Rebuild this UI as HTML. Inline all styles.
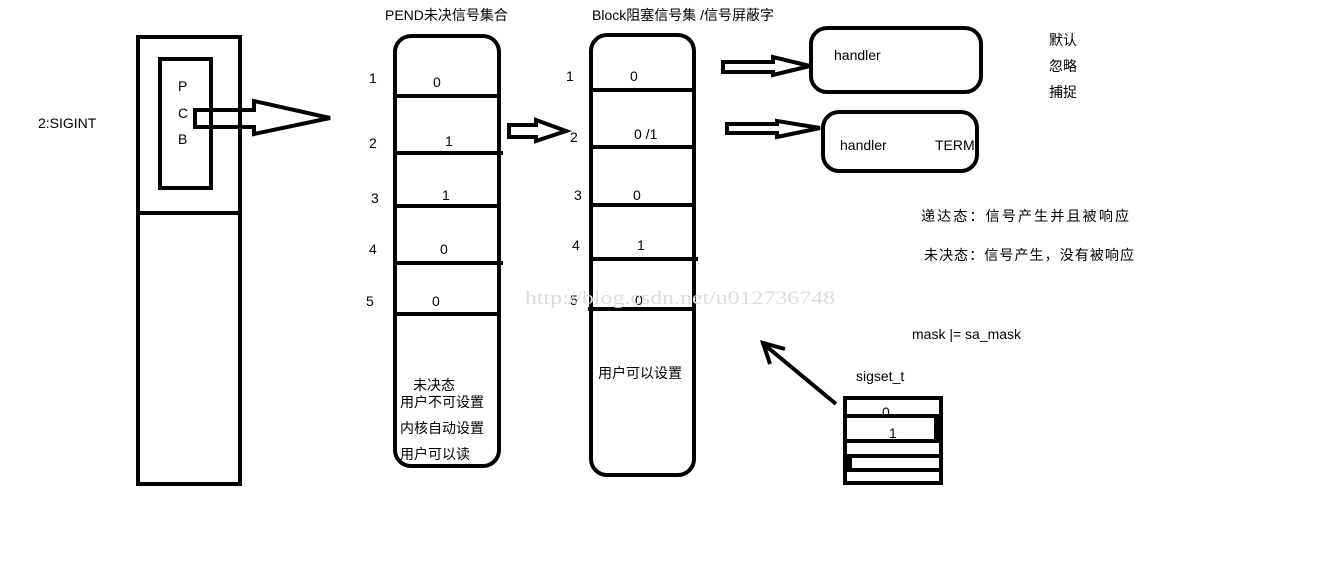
<!DOCTYPE html>
<html><head><meta charset="utf-8"><style>
body{margin:0;background:#fff}
svg text{font-family:"Liberation Sans","Noto Sans CJK SC",sans-serif;font-size:14px;fill:#000}
</style></head><body>
<svg width="1341" height="577" xmlns="http://www.w3.org/2000/svg">
<g fill="none" stroke="#000" stroke-width="4">
<rect x="138" y="37" width="102" height="447"/>
<line x1="138" y1="213" x2="240" y2="213"/>
<rect x="160" y="59" width="51" height="129"/>
<polygon points="195,110 254,110 254,101 330,118 254,134 254,127 195,127"/>
<rect x="395" y="36" width="104" height="430" rx="16"/>
<line x1="395" y1="96" x2="499" y2="96"/>
<line x1="395" y1="153" x2="503" y2="153"/>
<line x1="395" y1="206" x2="499" y2="206"/>
<line x1="395" y1="263" x2="503" y2="263"/>
<line x1="395" y1="314" x2="499" y2="314"/>
<polygon points="509,125 536,125 536,120 566,131 536,141 536,137 509,137"/>
<rect x="591" y="35" width="103" height="440" rx="16"/>
<line x1="591" y1="90" x2="694" y2="90"/>
<line x1="591" y1="147" x2="694" y2="147"/>
<line x1="591" y1="205" x2="694" y2="205"/>
<line x1="591" y1="259" x2="698" y2="259"/>
<line x1="588" y1="309" x2="694" y2="309"/>
<polygon points="723,62 773,62 773,57 810,66 773,75 773,72 723,72"/>
<polygon points="727,124 777,124 777,121 820,128 777,137 777,133 727,133"/>
<rect x="811" y="28" width="170" height="64" rx="16"/>
<rect x="823" y="112" width="154" height="59" rx="16"/>
<line x1="836" y1="404" x2="766" y2="346"/>
<polyline points="770,364 763,343 785,349"/>
<rect x="845" y="398" width="96" height="85"/>
<line x1="845" y1="416" x2="941" y2="416"/>
<line x1="845" y1="441" x2="941" y2="441"/>
<line x1="845" y1="456" x2="941" y2="456"/>
<line x1="845" y1="470" x2="941" y2="470"/>
</g>
<rect x="934" y="418" width="6" height="23" fill="#000"/>
<rect x="846" y="457" width="6" height="12" fill="#000"/>
<text x="38" y="128">2:SIGINT</text>
<text x="178" y="91">P</text><text x="178" y="118">C</text><text x="178" y="144">B</text>
<text x="385" y="20">PEND未决信号集合</text>
<text x="592" y="20">Block阻塞信号集 /信号屏蔽字</text>
<text x="369" y="83">1</text><text x="369" y="148">2</text><text x="371" y="203">3</text><text x="369" y="254">4</text><text x="366" y="306">5</text>
<text x="433" y="87">0</text><text x="445" y="146">1</text><text x="442" y="200">1</text><text x="440" y="254">0</text><text x="432" y="306">0</text>
<text x="566" y="81">1</text><text x="570" y="142">2</text><text x="574" y="200">3</text><text x="572" y="250">4</text><text x="570" y="305">5</text>
<text x="630" y="81">0</text><text x="634" y="139">0 /1</text><text x="633" y="200">0</text><text x="637" y="250">1</text><text x="635" y="305">0</text>
<text x="413" y="390">未决态</text>
<text x="400" y="407">用户不可设置</text>
<text x="400" y="433">内核自动设置</text>
<text x="400" y="459">用户可以读</text>
<text x="598" y="378">用户可以设置</text>
<text x="834" y="60">handler</text>
<text x="840" y="150">handler</text><text x="935" y="150">TERM</text>
<text x="1049" y="45">默认</text><text x="1049" y="71">忽略</text><text x="1049" y="97">捕捉</text>
<text x="921" y="221" textLength="208" lengthAdjust="spacing">递达态：信号产生并且被响应</text>
<text x="924" y="260" textLength="210" lengthAdjust="spacing">未决态：信号产生，没有被响应</text>
<text x="912" y="339">mask |= sa_mask</text>
<text x="856" y="381">sigset_t</text>
<text x="882" y="417">0</text><text x="889" y="438">1</text>
<text x="525" y="304" textLength="310" lengthAdjust="spacingAndGlyphs" style="font-family:'Liberation Serif',serif;font-size:19px;fill:#dcdcdc">http://blog.csdn.net/u012736748</text>
</svg>
</body></html>
